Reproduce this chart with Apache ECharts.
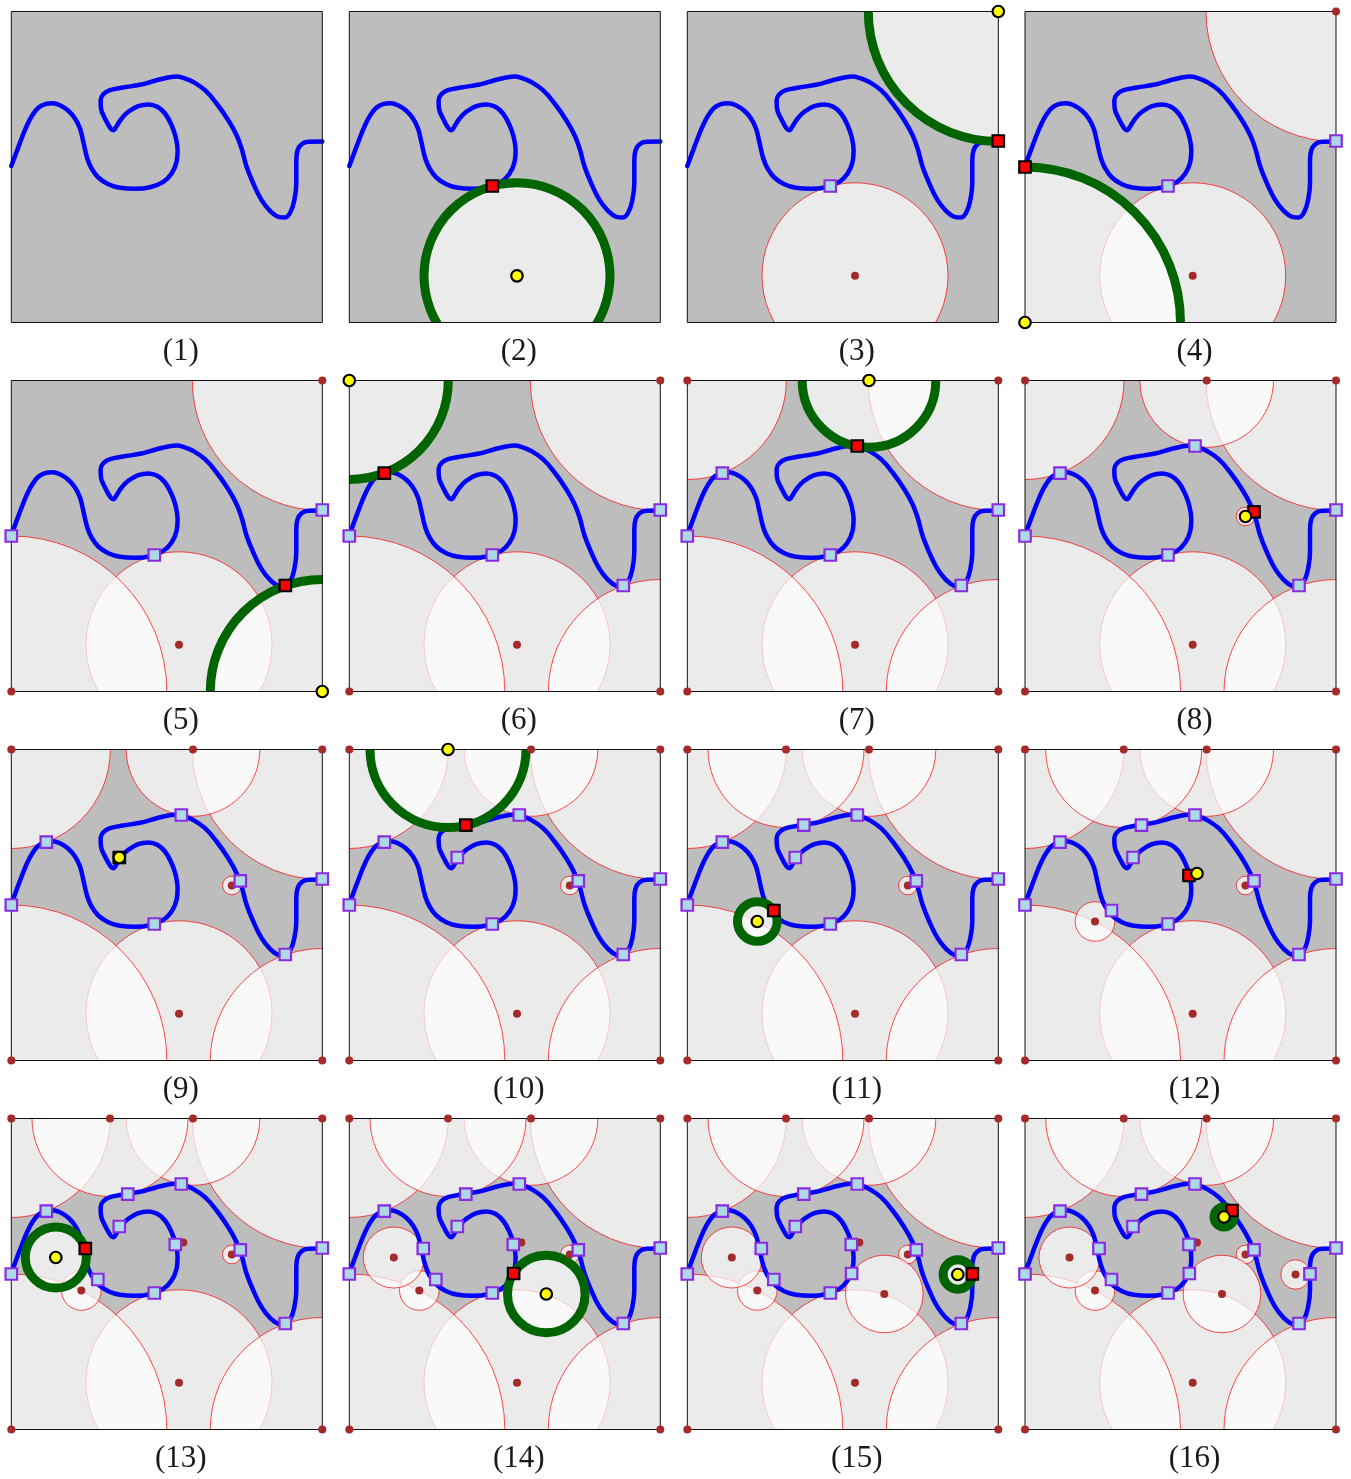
<!DOCTYPE html>
<html>
<head>
<meta charset="utf-8">
<style>html,body{margin:0;padding:0;background:#fff}#c{width:1351px;height:1479px}</style>
<script src="https://cdn.jsdelivr.net/npm/echarts@6/dist/echarts.min.js"></script>
</head>
<body>
<div id="c"></div>
<script>
// Boundary curve, same in every panel
const curveX = [0,5.3,10.3,15.3,21,27,33.7,41,48.7,57,63.7,68.7,72,76,80.3,87,97,108.7,123.7,138.7,152,160.3,165.3,166.3,164.3,160.3,153.7,146,137,127,117,110.3,105.3,102,99.3,93.7,89.7,89.3,92,98.7,112,128.7,145.3,158,165,172,182,193.7,205.3,217,225.3,230.3,235.3,242,250.3,258.7,267,273.7,279.3,283,285,285,286.3,290.3,297,311];
const curveY = [154.5,140.3,127,114.7,103.7,96.3,92.7,91.7,93.7,99.3,107,117,130.3,147,157,166,172.7,176.3,177.3,175.7,170.3,162,150.3,138.7,125.3,113.7,102,95.3,93,94.7,100.3,107,114.7,118.7,117,107,97,88.7,82.7,78.7,76,73.3,68.7,65.8,65,66.3,70.5,78.7,92,108.7,123.7,137,155.3,172,188.7,199.3,205.3,206,200.3,188.7,172,148.7,138.7,132.7,130.3,130];
// Sequence of disks, one per step (panel 2 .. panel 16)
const centerX = [167.7,311,0,311,0,181.7,220.5,108,98.7,70,172,44.5,197,270.5,199];
const centerY = [264.3,0,311,311,0,0,136,108,0,172,124,139,175.5,156,98.5];
const radius  = [93,130,155.5,112,99,66.8,9.3,0,78,19.8,0,30.5,38.8,14.7,10];
const pointX  = [143,311,0,274,35,170,229,108,116.5,86.5,164,74,164.3,285,207];
const pointY  = [174.5,129.5,155.5,205,92.7,65.5,131.3,108,75.7,161,126,130,155,155.3,92];
const ringShown = [1,1,1,1,1,1,0,0,1,1,0,1,1,1,1];
const panelLabels = ['(1)','(2)','(3)','(4)','(5)','(6)','(7)','(8)','(9)','(10)','(11)','(12)','(13)','(14)','(15)','(16)'];
const panelLeft = [11.3,349.3,687.3,1025];
const panelTop = [11.5,380.5,749.5,1118.5];
const panelSize = 311;

const curve = curveX.map((x,i)=>[x,curveY[i]]);
const disks = centerX.map((x,i)=>[x,centerY[i],radius[i]]);
const samples = pointX.map((x,i)=>[x,pointY[i]]);
const noFx = {emphasis:{disabled:true},silent:true,animation:false};

function circleItem(style){
  return function(params,api){
    const c = api.coord([api.value(0),api.value(1)]);
    const r = api.size([api.value(2),api.value(2)])[0];
    return {type:'circle',shape:{cx:c[0],cy:c[1],r:r},style:style};
  };
}
const grids=[],xAxes=[],yAxes=[],series=[],titles=[];
panelLabels.forEach((label,p)=>{
  const col=p%4,row=Math.floor(p/4);
  const left=panelLeft[col],top=panelTop[row];
  grids.push({left:left,top:top,width:panelSize,height:panelSize,show:true,backgroundColor:'#bdbdbd',borderWidth:0});
  xAxes.push({gridIndex:p,type:'value',min:0,max:panelSize,show:false});
  yAxes.push({gridIndex:p,type:'value',min:0,max:panelSize,inverse:true,show:false});
  titles.push({text:label,left:left+panelSize/2+14,top:top+340,padding:0,textAlign:'center',textVerticalAlign:'middle',
    textStyle:{fontFamily:'Liberation Serif',fontWeight:'normal',fontSize:31,color:'#1a1a1a'}});
  const s=p-1; // index of the current disk; -1 in panel 1
  const base={xAxisIndex:p,yAxisIndex:p,...noFx};
  const shown=disks.slice(0,Math.max(s+1,0)).filter(d=>d[2]>0);
  series.push({...base,type:'custom',clip:true,z:2,data:shown,encode:{x:0,y:1},
    renderItem:circleItem({fill:'rgba(255,255,255,0.7)',stroke:'#ff0000',lineWidth:0.7})});
  series.push({...base,type:'line',z:3,clip:true,showSymbol:false,smooth:0.42,data:curve,
    lineStyle:{color:'#0000ff',width:4.5,cap:'round',join:'round',opacity:1}});
  if(s>=0&&ringShown[s]){
    series.push({...base,type:'custom',clip:true,z:4,data:[disks[s]],encode:{x:0,y:1},
      renderItem:circleItem({fill:'none',stroke:'#006400',lineWidth:9})});
  }
  series.push({...base,type:'custom',clip:false,z:5,data:[[0,0,panelSize,panelSize]],encode:{x:[0,2],y:[1,3]},
    renderItem:function(params,api){
      const a=api.coord([api.value(0),api.value(1)]),b=api.coord([api.value(2),api.value(3)]);
      return {type:'rect',shape:{x:a[0],y:a[1],width:b[0]-a[0],height:b[1]-a[1]},style:{fill:'none',stroke:'#111',lineWidth:1}};
    }});
  if(s>=1){
    series.push({...base,type:'scatter',clip:false,z:6,symbol:'circle',symbolSize:8,
      data:disks.slice(0,s).map(d=>[d[0],d[1]]),itemStyle:{color:'#a52a2a',opacity:1}});
    series.push({...base,type:'scatter',clip:false,z:7,symbol:'rect',symbolSize:11.5,
      data:samples.slice(0,s),itemStyle:{color:'#add8e6',borderColor:'#8a2be2',borderWidth:2.2,opacity:1}});
  }
  if(s>=0){
    series.push({...base,type:'scatter',clip:false,z:8,symbol:'rect',symbolSize:11.5,
      data:[samples[s]],itemStyle:{color:'#ff0000',borderColor:'#000',borderWidth:2.2,opacity:1}});
    series.push({...base,type:'scatter',clip:false,z:9,symbol:'circle',symbolSize:11.5,
      data:[[disks[s][0],disks[s][1]]],itemStyle:{color:'#ffff00',borderColor:'#000',borderWidth:2.2,opacity:1}});
  }
});
const chart=echarts.init(document.getElementById('c'),null,{renderer:'canvas',width:1351,height:1479});
chart.setOption({animation:false,backgroundColor:'#fff',title:titles,grid:grids,xAxis:xAxes,yAxis:yAxes,series:series,tooltip:{show:false},legend:{show:false}});
</script>
</body>
</html>
